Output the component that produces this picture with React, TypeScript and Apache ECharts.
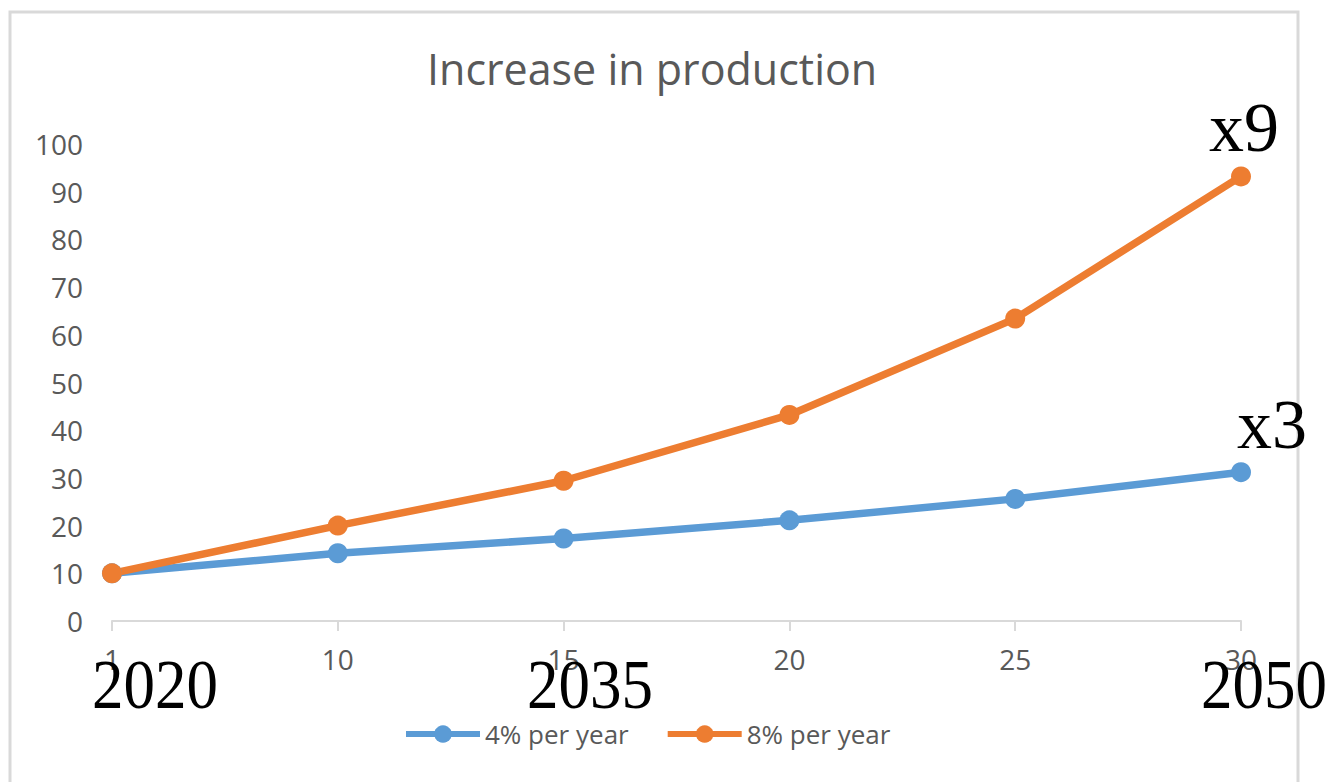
import React, { useEffect, useRef } from "react";
import * as echarts from "echarts";

const categories = ["1", "10", "15", "20", "25", "30"];
const growth4 = [10, 14.2, 17.3, 21.1, 25.6, 31.2];
const growth8 = [10, 20, 29.4, 43.2, 63.4, 93.2];
const seriesNames = ["4% per year", "8% per year"];
const yearLabels = ["2020", "2035", "2050"];
const multLabels = ["x9", "x3"];

const GRAY = "#595959";
const AXIS = "#D9D9D9";
const FONT = "'Open Sans', sans-serif";
const SERIF = "'Liberation Serif', 'DejaVu Serif', serif";

export default function App() {
  const ref = useRef<HTMLDivElement>(null);
  useEffect(() => {
    if (!ref.current) return;
    const chart = echarts.init(ref.current, undefined, { renderer: "svg" });
    const bigText = (text: string, x: number, y: number, size: number, sx: number) => ({
      type: "text",
      x,
      y,
      scaleX: sx,
      z: 100,
      style: {
        text,
        x: 0,
        y: 0,
        fill: "#000",
        font: `${size}px ${SERIF}`,
        textAlign: "center",
        textVerticalAlign: "middle",
      },
    });
    chart.setOption({
      animation: false,
      backgroundColor: "#fff",
      color: ["#5B9BD5", "#ED7D31"],
      title: {
        text: "Increase in production",
        left: 422,
        top: 42,
        textStyle: { fontFamily: FONT, fontSize: 43, fontWeight: "normal", color: GRAY },
      },
      grid: { left: 112, right: 91, top: 144, bottom: 161, containLabel: false },
      legend: {
        data: seriesNames,
        left: 403,
        top: 721,
        padding: 0,
        itemWidth: 74,
        itemHeight: 22,
        itemGap: 36,
        lineStyle: { width: 6 },
        textStyle: { fontFamily: FONT, fontSize: 26, color: GRAY },
      },
      xAxis: {
        type: "category",
        data: categories,
        boundaryGap: false,
        axisLine: { lineStyle: { color: AXIS, width: 2 } },
        axisTick: { show: true, length: 10, lineStyle: { color: AXIS, width: 2 } },
        axisLabel: { fontFamily: FONT, fontSize: 28, color: GRAY, margin: 24 },
        splitLine: { show: false },
      },
      yAxis: {
        type: "value",
        min: 0,
        max: 100,
        interval: 10,
        axisLine: { show: false },
        axisTick: { show: false },
        splitLine: { show: false },
        axisLabel: { fontFamily: FONT, fontSize: 28, color: GRAY, margin: 29 },
      },
      series: [
        {
          name: seriesNames[0],
          type: "line",
          data: growth4,
          symbol: "circle",
          symbolSize: 20,
          lineStyle: { width: 7.5 },
        },
        {
          name: seriesNames[1],
          type: "line",
          data: growth8,
          symbol: "circle",
          symbolSize: 20,
          lineStyle: { width: 7.5 },
        },
      ],
      graphic: [
        {
          type: "rect",
          z: -10,
          shape: { x: 10, y: 12, width: 1288, height: 800 },
          style: { fill: "none", stroke: AXIS, lineWidth: 3 },
        },
        bigText(yearLabels[0], 155, 684, 70, 0.9),
        bigText(yearLabels[1], 590, 684, 70, 0.9),
        bigText(yearLabels[2], 1264, 684, 70, 0.9),
        bigText(multLabels[0], 1244, 127, 70, 1),
        bigText(multLabels[1], 1272, 424, 70, 1),
      ],
    });
    return () => chart.dispose();
  }, []);
  return (
    <div
      ref={ref}
      style={{ position: "fixed", left: 0, top: 0, width: 1332, height: 782 }}
    />
  );
}
